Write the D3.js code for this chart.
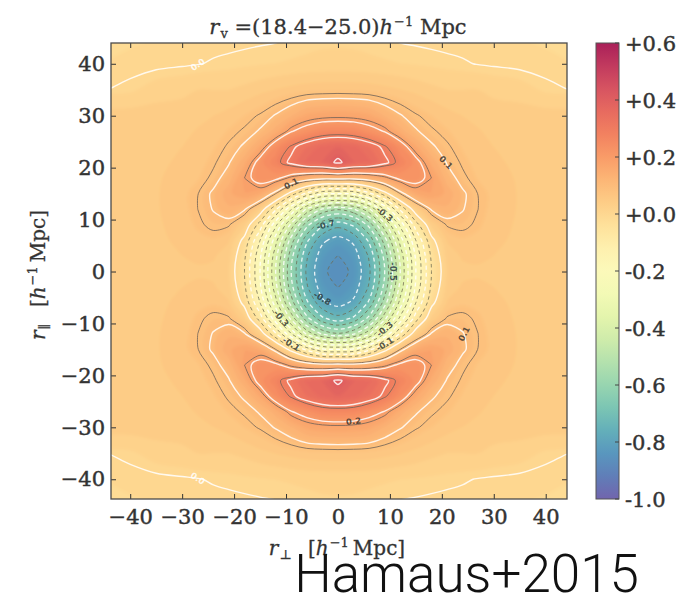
<!DOCTYPE html>
<html><head><meta charset="utf-8">
<script src="https://cdn.jsdelivr.net/npm/d3@7"></script>
<style>body{margin:0;background:#fff;} svg{display:block;}</style>
</head><body>
<svg id="c" width="686" height="598"></svg>
<script>
// ---------------- data ----------------
// sample coordinates |r| in h^-1 Mpc, used for both r_perp and r_par (quadrant, mirrored)
const gridR = [0, 3, 6, 9, 12, 15, 18, 21, 24, 27, 30, 35, 40, 46];
// xi(r_perp, r_par) in the first quadrant: rows = r_par (gridR), columns = r_perp (gridR)
const xiRow00 = [-0.87, -0.84, -0.76, -0.60, -0.40, -0.20, -0.05, 0.03, 0.044, 0.046, 0.045, 0.043, 0.04, 0.04];
const xiRow03 = [-0.851, -0.826, -0.744, -0.582, -0.383, -0.19, -0.041, 0.038, 0.053, 0.055, 0.05, 0.045, 0.042, 0.04];
const xiRow06 = [-0.821, -0.79, -0.69, -0.524, -0.33, -0.15, -0.014, 0.052, 0.066, 0.063, 0.054, 0.046, 0.042, 0.04];
const xiRow09 = [-0.734, -0.691, -0.584, -0.416, -0.235, -0.072, 0.036, 0.083, 0.088, 0.074, 0.058, 0.047, 0.042, 0.04];
const xiRow12 = [-0.544, -0.507, -0.411, -0.247, -0.092, 0.033, 0.104, 0.125, 0.102, 0.08, 0.062, 0.048, 0.041, 0.04];
const xiRow15 = [-0.20, -0.19, -0.115, -0.022, 0.081, 0.153, 0.17, 0.145, 0.106, 0.079, 0.064, 0.048, 0.041, 0.04];
const xiRow18 = [0.12, 0.118, 0.133, 0.169, 0.214, 0.225, 0.18, 0.118, 0.086, 0.068, 0.06, 0.047, 0.041, 0.04];
const xiRow21 = [0.41, 0.371, 0.356, 0.312, 0.265, 0.222, 0.145, 0.097, 0.076, 0.062, 0.055, 0.044, 0.04, 0.04];
const xiRow24 = [0.37, 0.357, 0.33, 0.287, 0.234, 0.155, 0.106, 0.084, 0.068, 0.056, 0.05, 0.042, 0.04, 0.04];
const xiRow27 = [0.255, 0.25, 0.226, 0.197, 0.14, 0.104, 0.084, 0.072, 0.058, 0.052, 0.044, 0.04, 0.04, 0.04];
const xiRow30 = [0.17, 0.167, 0.157, 0.128, 0.103, 0.083, 0.07, 0.058, 0.05, 0.044, 0.04, 0.04, 0.04, 0.04];
const xiRow35 = [0.065, 0.064, 0.062, 0.057, 0.051, 0.044, 0.036, 0.03, 0.03, 0.03, 0.025, 0.02, 0.006, -0.002];
const xiRow40 = [0.015, 0.015, 0.014, 0.012, 0.01, 0.008, 0.006, 0.004, 0.002, -0.001, -0.003, -0.006, -0.008, -0.01];
const xiRow46 = [0.005, 0.004, 0.001, -0.002, -0.005, -0.006, -0.007, -0.008, -0.009, -0.01, -0.01, -0.011, -0.012, -0.012];
const xiQuadrant = [xiRow00, xiRow03, xiRow06, xiRow09, xiRow12, xiRow15, xiRow18, xiRow21, xiRow24, xiRow27, xiRow30, xiRow35, xiRow40, xiRow46];

const axisTicks = [-40, -30, -20, -10, 0, 10, 20, 30, 40];
const colorTicks = [0.6, 0.4, 0.2, 0.0, -0.2, -0.4, -0.6, -0.8, -1.0];
const colorDomain = [-1.0, 0.6];
const modelSolidLevels = [0.0, 0.1, 0.2, 0.3, 0.4];
const modelDashedLevels = [-0.8, -0.7, -0.6, -0.5, -0.4, -0.3, -0.2, -0.1];
const dataSolidLevels = [0.08, 0.18, 0.28];
const dataDashedLevels = [-0.85, -0.75, -0.65, -0.55, -0.45, -0.35, -0.25, -0.15, -0.05];
const titleParts = ["r", "v", " =(18.4\u221225.0)", "h", "\u22121", " Mpc"];
const credit = "Hamaus+2015";

// ---------------- build full grid by mirroring ----------------
const G = gridR.slice(1).map(v => -v).reverse().concat(gridR);
const n = G.length;
const qi = G.map(v => gridR.indexOf(Math.abs(v)));
const values = new Array(n * n);
for (let j = 0; j < n; j++) for (let i = 0; i < n; i++) values[j * n + i] = xiQuadrant[qi[j]][qi[i]];

// ---------------- scales ----------------
const L = 111, R = 567, T = 43, B = 499;
const x = d3.scaleLinear().domain([-43.7, 44.1]).range([L, R]);
const y = d3.scaleLinear().domain([-43.8, 44.0]).range([B, T]);
const cToR = d3.scaleLinear().domain(d3.range(n).map(i => i + 0.5)).range(G);
const color = v => d3.interpolateSpectral((colorDomain[1] - v) / (colorDomain[1] - colorDomain[0]));
const washOpacity = 0.88;

const svg = d3.select('#c');
const defs = svg.append('defs');
defs.append('clipPath').attr('id', 'plotClip').append('rect')
  .attr('x', L).attr('y', T).attr('width', R - L).attr('height', B - T);
defs.append('filter').attr('id', 'soft').attr('x', '-10%').attr('y', '-10%').attr('width', '120%').attr('height', '120%')
  .append('feGaussianBlur').attr('stdDeviation', 1.4);
defs.append('filter').attr('id', 'softLine').attr('x', '-5%').attr('y', '-5%').attr('width', '110%').attr('height', '110%')
  .append('feGaussianBlur').attr('stdDeviation', 0.45);

const gen = d3.contours().size([n, n]).smooth(true);
const lineGen = d3.line().curve(d3.curveCatmullRomClosed.alpha(0.5));
function toPath(geom) {
  let d = '';
  geom.coordinates.forEach(poly => poly.forEach(ring => {
    const pts = ring.slice(0, -1).map(([cx, cy]) => [x(cToR(cx)), y(cToR(cy))]);
    if (pts.length > 2) d += lineGen(pts);
  }));
  return d;
}

// ---------------- heat map ----------------
const clipG = svg.append('g').attr('clip-path', 'url(#plotClip)');
const fillG = clipG.append('g').attr('filter', 'url(#soft)').attr('opacity', washOpacity);
const fillStep = 0.02;
const fillLevels = d3.range(0, 80).map(k => -0.99 + k * fillStep);
fillG.append('rect').attr('x', L - 20).attr('y', T - 20).attr('width', R - L + 40).attr('height', B - T + 40)
  .attr('fill', color(0.04));
fillLevels.forEach(t => {
  const d = toPath(gen.contour(values, t));
  if (d) fillG.append('path').attr('d', d).attr('fill', color(t + fillStep / 2)).attr('fill-rule', 'evenodd');
});

// ---------------- contour lines ----------------
const lineG = clipG.append('g').attr('filter', 'url(#softLine)').attr('fill', 'none');
function drawLevels(levels, stroke, width, dash, op) {
  levels.forEach(t => {
    lineG.append('path').attr('d', toPath(gen.contour(values, t)))
      .attr('stroke', stroke).attr('stroke-width', width).attr('stroke-opacity', op)
      .attr('stroke-dasharray', dash);
  });
}
drawLevels(dataSolidLevels, '#6e6258', 1.0, null, 0.8);
drawLevels(dataDashedLevels, '#6e6a50', 1.0, '3.5,3', 0.75);
drawLevels(modelSolidLevels, '#ffffff', 1.4, null, 0.85);
drawLevels(modelDashedLevels, '#ffffff', 1.3, '4,3', 0.85);

// contour labels, placed on the contour point closest to a chosen direction
const labelSpecs = [
  {level: 0.0, angle: 120, outer: true, fill: '#ffffff'},
  {level: 0.0, angle: -120, outer: true, fill: '#ffffff'},
  {level: 0.1, angle: 43, outer: true, fill: '#3a3530'},
  {level: 0.1, angle: -25, outer: true, fill: '#3a3530'},
  {level: 0.1, angle: 122, outer: false, fill: '#3a3530'},
  {level: 0.2, angle: -79, outer: true, fill: '#3a3530'},
  {level: -0.7, angle: 110, outer: true, fill: '#2c3b40'},
  {level: -0.8, angle: 235, outer: true, fill: '#2c3b40'},
  {level: -0.5, angle: 0, outer: true, fill: '#2c3b40'},
  {level: -0.3, angle: 215, outer: true, fill: '#3a3a30'},
  {level: -0.1, angle: 242, outer: true, fill: '#3a3a30'},
  {level: -0.3, angle: -50, outer: true, fill: '#3a3a30'},
  {level: -0.1, angle: -62, outer: true, fill: '#3a3a30'},
  {level: -0.3, angle: 48, outer: true, fill: '#3a3a30'}
];
const labG = svg.append('g').attr('font-family', 'DejaVu Sans').attr('font-size', 8.5).attr('font-weight', 'bold')
  .attr('text-anchor', 'middle');
labelSpecs.forEach(s => {
  const geom = gen.contour(values, s.level);
  const th = s.angle * Math.PI / 180;
  const cand = [];
  geom.coordinates.forEach(poly => poly.forEach(ring => ring.forEach(([cx, cy]) => {
    const px = cToR(cx), py = cToR(cy);
    if (Math.abs(px) > 42 || Math.abs(py) > 42) return;
    const r = Math.hypot(px, py);
    if (r < 1) return;
    let da = Math.abs(Math.atan2(py, px) - th) % (2 * Math.PI);
    if (da > Math.PI) da = 2 * Math.PI - da;
    cand.push({px, py, r, da});
  })));
  if (!cand.length) return;
  const minDa = d3.min(cand, c => c.da);
  const near = cand.filter(c => c.da < minDa + 0.08);
  const p = s.outer ? d3.greatest(near, c => c.r) : d3.least(near, c => c.r);
  let rot = -(Math.atan2(p.py, p.px) * 180 / Math.PI + 90);
  while (rot > 90) rot -= 180;
  while (rot <= -90) rot += 180;
  const fmt = s.level < 0 ? '-' + Math.abs(s.level).toFixed(1) : s.level.toFixed(1);
  labG.append('text').attr('transform', `translate(${x(p.px)},${y(p.py)}) rotate(${rot})`)
    .attr('dy', '0.35em').attr('fill', s.fill).attr('fill-opacity', 0.85).text(fmt);
});

// ---------------- axes ----------------
const axFont = 'DejaVu Serif';
const ink = '#333';
function styleAxis(g) {
  g.select('.domain').remove();
  g.attr('font-family', axFont).attr('font-size', 21).attr('color', ink);
  g.selectAll('.tick line').attr('stroke-width', 1);
  g.selectAll('.tick text').attr('stroke', ink).attr('stroke-width', 0.45);
}
svg.append('g').attr('transform', `translate(0,${B})`)
  .call(d3.axisBottom(x).tickValues(axisTicks).tickSizeInner(-5).tickSizeOuter(0).tickPadding(10)).call(styleAxis);
svg.append('g').attr('transform', `translate(${L},0)`)
  .call(d3.axisLeft(y).tickValues(axisTicks).tickSizeInner(-5).tickSizeOuter(0).tickPadding(6)).call(styleAxis);
svg.append('g').attr('transform', `translate(0,${T})`)
  .call(d3.axisTop(x).tickValues(axisTicks).tickSizeInner(-5).tickSizeOuter(0).tickFormat('')).call(styleAxis);
svg.append('g').attr('transform', `translate(${R},0)`)
  .call(d3.axisRight(y).tickValues(axisTicks).tickSizeInner(-5).tickSizeOuter(0).tickFormat('')).call(styleAxis);
svg.append('rect').attr('x', L).attr('y', T).attr('width', R - L).attr('height', B - T)
  .attr('fill', 'none').attr('stroke', '#4a4a4a').attr('stroke-width', 1.3);

// ---------------- colorbar ----------------
const cbL = 596, cbW = 23;
const cy = d3.scaleLinear().domain(colorDomain).range([B, T]);
const grad = defs.append('linearGradient').attr('id', 'cbGrad').attr('x1', 0).attr('y1', 0).attr('x2', 0).attr('y2', 1);
d3.range(0, 21).forEach(k => grad.append('stop').attr('offset', k / 20).attr('stop-color', d3.interpolateSpectral(k / 20)));
svg.append('rect').attr('x', cbL).attr('y', T).attr('width', cbW).attr('height', B - T)
  .attr('fill', 'url(#cbGrad)').attr('fill-opacity', washOpacity).attr('stroke', '#555').attr('stroke-width', 1);
const cbG = svg.append('g').attr('font-family', axFont).attr('font-size', 21).attr('fill', ink);
colorTicks.forEach(v => {
  cbG.append('line').attr('x1', cbL + cbW - 4).attr('x2', cbL + cbW).attr('y1', cy(v)).attr('y2', cy(v))
    .attr('stroke', '#444').attr('stroke-width', 1);
  const s = v > 0 || Math.abs(v) < 1e-9 ? '+' + Math.abs(v).toFixed(1) : '-' + Math.abs(v).toFixed(1);
  cbG.append('text').attr('x', cbL + cbW + 6).attr('y', cy(v)).attr('dy', '0.36em')
    .attr('stroke', ink).attr('stroke-width', 0.45).text(s);
});

// ---------------- titles / labels ----------------
const title = svg.append('text').attr('x', 338).attr('y', 34).attr('text-anchor', 'middle')
  .attr('font-family', axFont).attr('font-size', 21).attr('fill', ink).attr('stroke', ink).attr('stroke-width', 0.3);
title.append('tspan').attr('font-style', 'italic').text(titleParts[0]);
title.append('tspan').attr('font-size', 13).attr('dx', 1).attr('dy', 4).text(titleParts[1]);
title.append('tspan').attr('dy', -4).text(titleParts[2]);
title.append('tspan').attr('font-style', 'italic').text(titleParts[3]);
title.append('tspan').attr('font-size', 13).attr('dx', 1).attr('dy', -8).text(titleParts[4]);
title.append('tspan').attr('dy', 8).text(titleParts[5]);

function axisLabel(sel, sub) {
  sel.append('tspan').attr('font-style', 'italic').text('r');
  sel.append('tspan').attr('font-size', 13).attr('dx', 1).attr('dy', 4).text(sub);
  sel.append('tspan').attr('dy', -4).text('\u2002 [');
  sel.append('tspan').attr('font-style', 'italic').text('h');
  sel.append('tspan').attr('font-size', 13).attr('dx', 1).attr('dy', -8).text('\u22121');
  sel.append('tspan').attr('dy', 8).text('\u2009Mpc]');
}
const xl = svg.append('text').attr('x', 337).attr('y', 555).attr('text-anchor', 'middle')
  .attr('font-family', axFont).attr('font-size', 20).attr('fill', ink).attr('stroke', ink).attr('stroke-width', 0.3);
axisLabel(xl, '\u22A5');
const yl = svg.append('text').attr('transform', 'translate(45,275) rotate(-90)').attr('text-anchor', 'middle')
  .attr('font-family', axFont).attr('font-size', 20).attr('fill', ink).attr('stroke', ink).attr('stroke-width', 0.3);
axisLabel(yl, '\u2225');

svg.append('text').attr('x', 639).attr('y', 592).attr('text-anchor', 'end')
  .attr('font-family', 'Roboto').attr('font-weight', 300).attr('font-size', 53).attr('fill', '#111')
  .text(credit);
</script>
</body></html>
